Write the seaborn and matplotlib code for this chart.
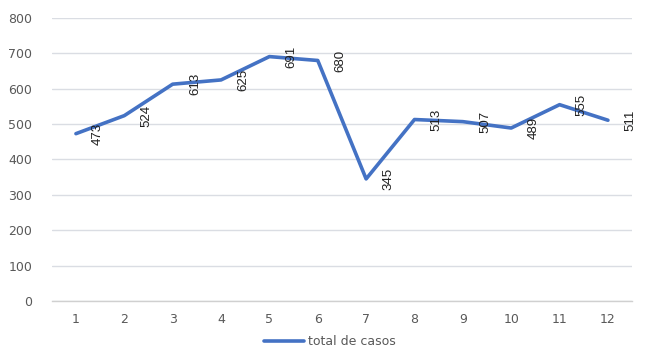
import numpy as np
import pandas as pd
from matplotlib import pyplot as plt
from matplotlib.ticker import FixedLocator
import seaborn as sns

# Monthly case totals
meses = [1, 2, 3, 4, 5, 6, 7, 8, 9, 10, 11, 12]
casos = [473, 524, 613, 625, 691, 680, 345, 513, 507, 489, 555, 511]
serie = 'total de casos'

df = pd.DataFrame({'mes': meses, 'casos': casos})

sns.set_style('white')
plt.rcParams['font.family'] = ['DejaVu Sans']

fig = plt.figure(figsize=(6.47, 3.54), dpi=100)
ax = fig.add_axes([0.080, 0.150, 0.897, 0.799])

sns.lineplot(x='mes', y='casos', data=df, color='#4472C4', linewidth=2.6,
             label=serie, ax=ax, legend=False)

# Data labels, rotated, to the right of each point
for m, c in zip(meses, casos):
    ax.annotate(str(c), (m, c), xytext=(16, 0), textcoords='offset points',
                rotation=90, ha='center', va='center', fontsize=9.5,
                family='Liberation Sans', color='#202020')

ax.set_xlim(0.5, 12.5)
ax.set_ylim(0, 800)
ax.set_yticks(range(0, 801, 100))
ax.set_xticks(meses)
ax.xaxis.set_minor_locator(FixedLocator(np.arange(0.5, 12.6, 1)))
ax.grid(axis='y', color='#dadde3', linewidth=1)
ax.set_axisbelow(True)

for s in ['top', 'right', 'left']:
    ax.spines[s].set_visible(False)
ax.spines['bottom'].set_color('#d0d0d0')
ax.spines['bottom'].set_linewidth(1)

ax.tick_params(axis='y', length=0, pad=14, labelsize=9, labelcolor='#595959')
ax.tick_params(axis='x', which='major', length=0, pad=9, labelsize=9,
               labelcolor='#595959')
ax.tick_params(axis='x', which='minor', length=5, width=1, color='#d0d0d0')
ax.set_xlabel('')
ax.set_ylabel('')

handles, labels = ax.get_legend_handles_labels()
fig.legend(handles, labels, loc='lower center', bbox_to_anchor=(0.51, -0.015),
           frameon=False, fontsize=9, labelcolor='#595959', handlelength=3.2,
           handletextpad=0.3)

fig.savefig('out.png', dpi=100)
